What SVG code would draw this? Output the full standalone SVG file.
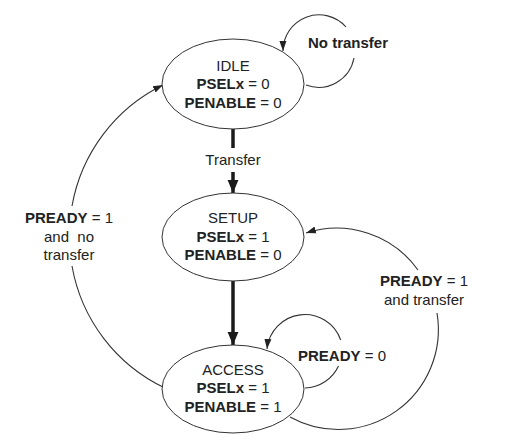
<svg xmlns="http://www.w3.org/2000/svg" width="525" height="446" viewBox="0 0 525 446">
<style>
text{font-family:"Liberation Sans",Arial,sans-serif;font-size:15px;fill:#222;text-anchor:middle}
.b{font-weight:bold}
.st{fill:#fff;stroke:#333;stroke-width:1}
.thin{fill:none;stroke:#333;stroke-width:1.1}
.thick{fill:none;stroke:#1a1a1a;stroke-width:3.5}
</style>
<defs>
<marker id="a" markerUnits="userSpaceOnUse" markerWidth="10" markerHeight="10" viewBox="0 0 10 10" refX="10" refY="5" orient="auto"><path d="M0,1.5 L10,5 L0,8.5 Z" fill="#222"/></marker>
<marker id="A" markerUnits="userSpaceOnUse" markerWidth="13" markerHeight="13" viewBox="0 0 12 12" refX="12" refY="6" orient="auto"><path d="M0,1 L12,6 L0,11 Z" fill="#1a1a1a"/></marker>
</defs>
<g id="connectors">
<path class="thick" d="M233,128 L233,148"/>
<path class="thick" d="M233,172 L233,193" marker-end="url(#A)"/>
<path class="thick" d="M233,281 L233,345" marker-end="url(#A)"/>
<path class="thin" d="M306,85 A36,36 0 0 0 354,58"/>
<path class="thin" d="M346,27 A36,36 0 0 0 283,51" marker-end="url(#a)"/>
<path class="thin" d="M72,206 A167,167 0 0 1 163,85" marker-end="url(#a)"/>
<path class="thin" d="M165,388 A167,167 0 0 1 72,266"/>
<path class="thin" d="M290,417 A100,100 0 0 0 437,313"/>
<path class="thin" d="M418,270 A100,100 0 0 0 306,233" marker-end="url(#a)"/>
<path class="thin" d="M340.7,340 A38,38 0 0 0 267,349" marker-end="url(#a)"/>
<path class="thin" d="M338.5,366 A38,38 0 0 1 305,388"/>
</g>
<g id="labels">
<text x="233" y="165">Transfer</text>
<text x="348" y="48" class="b">No transfer</text>
<text x="69" y="223"><tspan class="b">PREADY</tspan> = 1</text>
<text x="69" y="242">and&#160; no</text>
<text x="69" y="260">transfer</text>
<text x="424" y="286"><tspan class="b">PREADY</tspan> = 1</text>
<text x="424" y="305">and transfer</text>
<text x="342" y="361"><tspan class="b">PREADY</tspan> = 0</text>
</g>
<g id="idle">
<ellipse class="st" cx="233" cy="84" rx="71" ry="45"/>
<text x="233" y="71">IDLE</text>
<text x="233" y="89"><tspan class="b">PSELx</tspan> = 0</text>
<text x="233" y="108"><tspan class="b">PENABLE</tspan> = 0</text>
</g>
<g id="setup">
<ellipse class="st" cx="233" cy="237" rx="71" ry="44"/>
<text x="233" y="223">SETUP</text>
<text x="233" y="242"><tspan class="b">PSELx</tspan> = 1</text>
<text x="233" y="260"><tspan class="b">PENABLE</tspan> = 0</text>
</g>
<g id="access">
<ellipse class="st" cx="233" cy="389" rx="71" ry="44"/>
<text x="233" y="375">ACCESS</text>
<text x="233" y="393"><tspan class="b">PSELx</tspan> = 1</text>
<text x="233" y="412"><tspan class="b">PENABLE</tspan> = 1</text>
</g>
</svg>
